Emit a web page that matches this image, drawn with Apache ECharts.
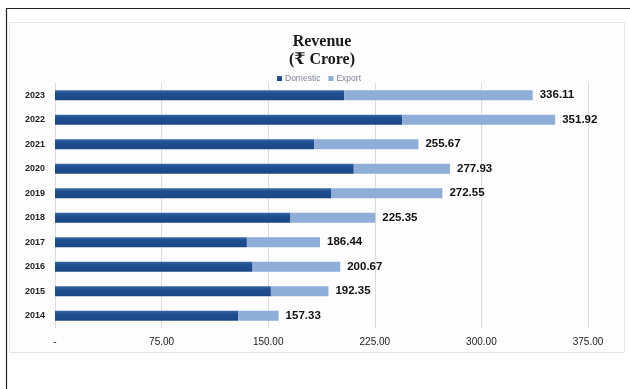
<!DOCTYPE html>
<html>
<head>
<meta charset="utf-8">
<title>Revenue (₹ Crore)</title>
<script src="https://cdn.jsdelivr.net/npm/echarts@6/dist/echarts.min.js"></script>
<style>
  html, body { margin: 0; padding: 0; background: #ffffff; }
  #chart { width: 630px; height: 389px; }
</style>
</head>
<body>
<div id="chart"></div>
<script>
// Financial years, bottom to top
const years = ['2014', '2015', '2016', '2017', '2018', '2019', '2020', '2021', '2022', '2023'];
// Revenue split, ₹ Crore
const domestic = [128.90, 151.90, 139.00, 135.00, 165.70, 194.50, 210.20, 182.30, 244.20, 203.40];
const exportRev = [28.43, 40.45, 61.67, 51.44, 59.65, 78.05, 67.73, 73.37, 107.72, 132.71];
// Total revenue shown at the end of each bar
const totals = [157.33, 192.35, 200.67, 186.44, 225.35, 272.55, 277.93, 255.67, 351.92, 336.11];
// Value axis ticks
const xTicks = [0, 75, 150, 225, 300, 375];

const chart = echarts.init(document.getElementById('chart'), null, { renderer: 'canvas' });

const option = {
  backgroundColor: '#ffffff',
  animation: false,
  graphic: [
    { type: 'rect', shape: { x: 6.5, y: 8.5, width: 640, height: 400 },
      style: { fill: 'none', stroke: '#222', lineWidth: 1.2 }, silent: true },
    { type: 'rect', shape: { x: 9.5, y: 22.5, width: 615, height: 330 },
      style: { fill: '#fdfdfd', stroke: '#e4e4ea', lineWidth: 1 }, silent: true, z: -1 }
  ],
  title: {
    text: 'Revenue\n(₹ Crore)',
    left: 317,
    top: 28,
    textAlign: 'center',
    textStyle: {
      fontFamily: '"Liberation Serif", "DejaVu Serif", serif',
      fontWeight: 'bold',
      fontSize: 16,
      lineHeight: 18,
      color: '#1a1a1a'
    }
  },
  legend: {
    data: ['Domestic', 'Export'],
    left: 272,
    top: 69,
    itemWidth: 5,
    itemHeight: 5,
    itemGap: 8,
    icon: 'rect',
    textStyle: { fontFamily: '"Liberation Sans", sans-serif', fontSize: 8.5, color: '#7d8594', padding: [0, 0, 0, -2] }
  },
  grid: { left: 55, right: 42, top: 83, bottom: 61, containLabel: false },
  xAxis: {
    type: 'value',
    min: xTicks[0],
    max: xTicks[xTicks.length - 1],
    interval: xTicks[1] - xTicks[0],
    axisLine: { show: false },
    axisTick: { show: false },
    splitLine: { show: true, lineStyle: { color: '#dcdcdc', width: 1 } },
    axisLabel: {
      margin: 9,
      fontFamily: '"Liberation Sans Narrow", "Liberation Sans", sans-serif',
      fontSize: 10,
      color: '#222',
      formatter: function (v) { return v === 0 ? '-' : v.toFixed(2); }
    }
  },
  yAxis: {
    type: 'category',
    data: years,
    axisLine: { show: true, lineStyle: { color: '#dcdcdc' } },
    axisTick: { show: false },
    axisLabel: {
      margin: 10,
      fontFamily: '"Liberation Sans", sans-serif',
      fontWeight: 'bold',
      fontSize: 9,
      color: '#222'
    }
  },
  series: [
    {
      name: 'Domestic',
      type: 'bar',
      stack: 'rev',
      barWidth: 10,
      data: domestic,
      itemStyle: {
        color: new echarts.graphic.LinearGradient(0, 0, 0, 1, [
          { offset: 0, color: '#3a68a6' },
          { offset: 0.3, color: '#1f4f91' },
          { offset: 1, color: '#1b4683' }
        ])
      }
    },
    {
      name: 'Export',
      type: 'bar',
      stack: 'rev',
      barWidth: 10,
      data: exportRev,
      itemStyle: { color: '#8eaed8' },
      label: {
        show: true,
        position: 'right',
        distance: 7,
        fontFamily: '"Liberation Sans", sans-serif',
        fontWeight: 'bold',
        fontSize: 11.5,
        color: '#111',
        formatter: function (p) { return totals[p.dataIndex].toFixed(2); }
      }
    }
  ]
};

chart.setOption(option);
</script>
</body>
</html>
